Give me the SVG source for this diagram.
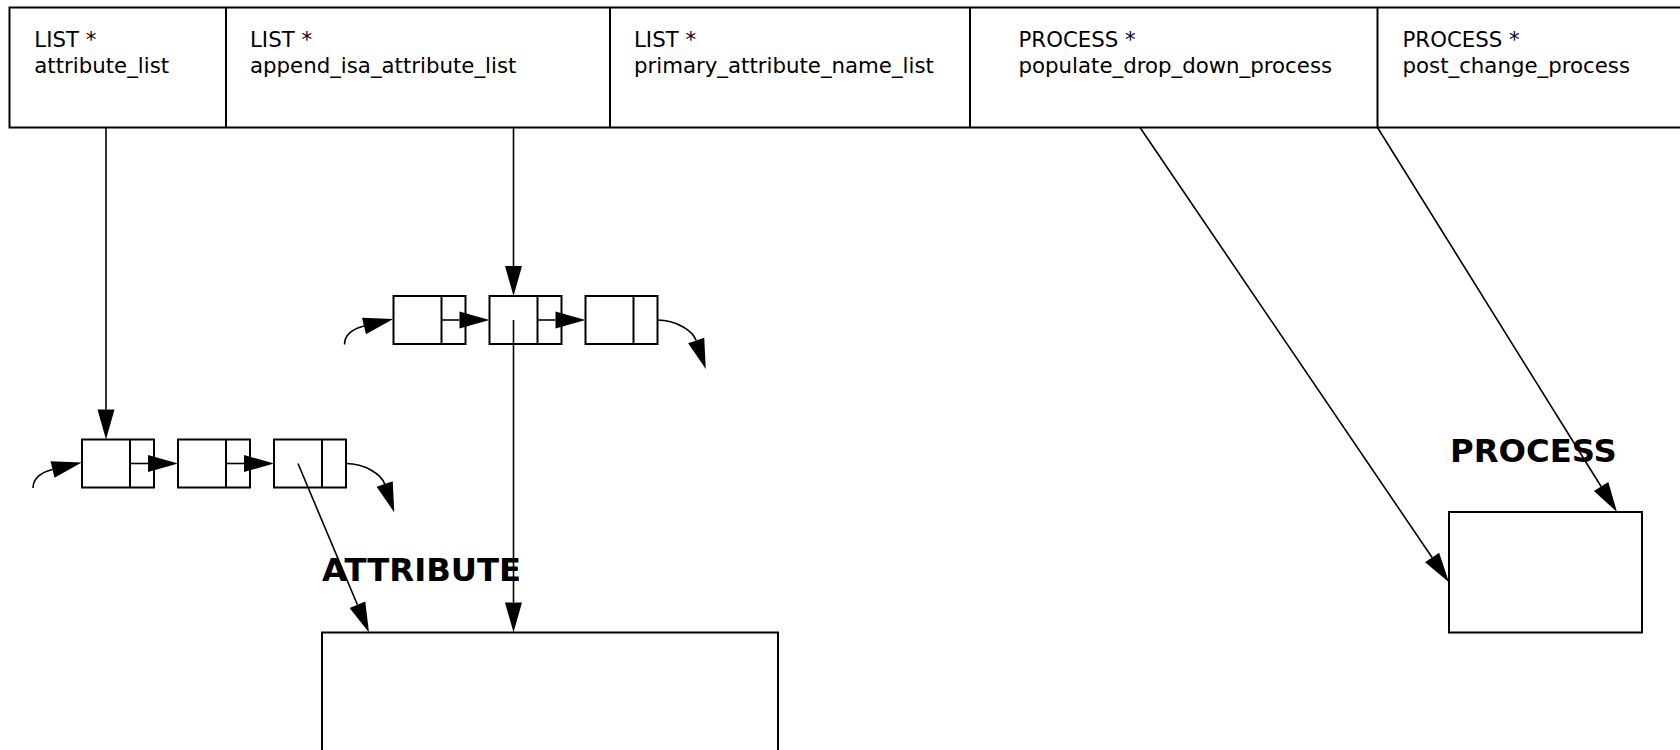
<svg xmlns="http://www.w3.org/2000/svg" width="1680" height="750" viewBox="0 0 1680 750">
<style>
.box{fill:#fff;stroke:#000;stroke-width:2}
.div{stroke:#000;stroke-width:2}
.edge{fill:none;stroke:#000;stroke-width:1.6}
.lbl{font-family:"DejaVu Sans",sans-serif;font-size:21.3px;fill:#000}
.title{font-family:"DejaVu Sans",sans-serif;font-size:32.3px;font-weight:bold;fill:#000}
</style>
<defs>
<marker id="ah" markerUnits="userSpaceOnUse" markerWidth="30" markerHeight="17" refX="0" refY="8.5" orient="auto" overflow="visible">
<path d="M0,0 L30,8.5 L0,17 z" fill="#000"/>
</marker>
</defs>
<rect width="1680" height="750" fill="#fff"/>
<g id="struct">
<rect class="box" x="9.5" y="7.5" width="1700" height="120"/>
<line class="div" x1="226" y1="7.5" x2="226" y2="127.5"/>
<line class="div" x1="610" y1="7.5" x2="610" y2="127.5"/>
<line class="div" x1="970" y1="7.5" x2="970" y2="127.5"/>
<line class="div" x1="1377.5" y1="7.5" x2="1377.5" y2="127.5"/>
<text class="lbl" x="34.3" y="47.3">LIST *</text>
<text class="lbl" x="34.3" y="72.6">attribute_list</text>
<text class="lbl" x="250" y="47.3">LIST *</text>
<text class="lbl" x="250" y="72.6">append_isa_attribute_list</text>
<text class="lbl" x="634" y="47.3">LIST *</text>
<text class="lbl" x="634" y="72.6">primary_attribute_name_list</text>
<text class="lbl" x="1018.5" y="47.3">PROCESS *</text>
<text class="lbl" x="1018.5" y="72.6">populate_drop_down_process</text>
<text class="lbl" x="1402.5" y="47.3">PROCESS *</text>
<text class="lbl" x="1402.5" y="72.6">post_change_process</text>
</g>
<g id="list1_n1"><rect class="box" x="82" y="439.5" width="72" height="48"/><line class="div" x1="130" y1="439.5" x2="130" y2="487.5"/></g>
<g id="list1_n2"><rect class="box" x="178" y="439.5" width="72" height="48"/><line class="div" x1="226" y1="439.5" x2="226" y2="487.5"/></g>
<g id="list1_n3"><rect class="box" x="274" y="439.5" width="72" height="48"/><line class="div" x1="322" y1="439.5" x2="322" y2="487.5"/></g>
<g id="list2_n1"><rect class="box" x="393.5" y="296" width="72" height="48"/><line class="div" x1="441.5" y1="296" x2="441.5" y2="344"/></g>
<g id="list2_n2"><rect class="box" x="489.5" y="296" width="72" height="48"/><line class="div" x1="537.5" y1="296" x2="537.5" y2="344"/></g>
<g id="list2_n3"><rect class="box" x="585.5" y="296" width="72" height="48"/><line class="div" x1="633.5" y1="296" x2="633.5" y2="344"/></g>
<g id="attribute">
<text class="title" x="322" y="580.5">ATTRIBUTE</text>
<rect class="box" x="322" y="632.5" width="456" height="160"/>
</g>
<g id="process">
<text class="title" x="1450" y="461.5">PROCESS</text>
<rect class="box" x="1449" y="512" width="193" height="120.5"/>
</g>
<g id="connectors">
<path class="edge" marker-end="url(#ah)" d="M130,463.5 L148,463.5"/>
<path class="edge" marker-end="url(#ah)" d="M226,463.5 L244,463.5"/>
<path class="edge" marker-end="url(#ah)" d="M33,488 C33,478 42,472 52.5,469.5"/>
<path class="edge" marker-end="url(#ah)" d="M346,463.5 C365,463.5 381.5,474.5 384.7,484"/>
<path class="edge" marker-end="url(#ah)" d="M441.5,320 L459.5,320"/>
<path class="edge" marker-end="url(#ah)" d="M537.5,320 L555.5,320"/>
<path class="edge" marker-end="url(#ah)" d="M344.5,344.5 C344.5,334.5 353.5,328.5 364,326"/>
<path class="edge" marker-end="url(#ah)" d="M657.5,320 C676.5,320 693,331 696.2,340.5"/>
<path class="edge" marker-end="url(#ah)" d="M106,127.5 L106,409.5"/>
<path class="edge" marker-end="url(#ah)" d="M513.5,127.5 L513.5,266"/>
<path class="edge" marker-end="url(#ah)" d="M513.5,320 L513.5,602.5"/>
<path class="edge" marker-end="url(#ah)" d="M298,463.5 L357.4,604.8"/>
<path class="edge" marker-end="url(#ah)" d="M1140,127.5 L1432.1,557.5"/>
<path class="edge" marker-end="url(#ah)" d="M1377.5,127.5 L1601.1,486.5"/>
</g>
</svg>
